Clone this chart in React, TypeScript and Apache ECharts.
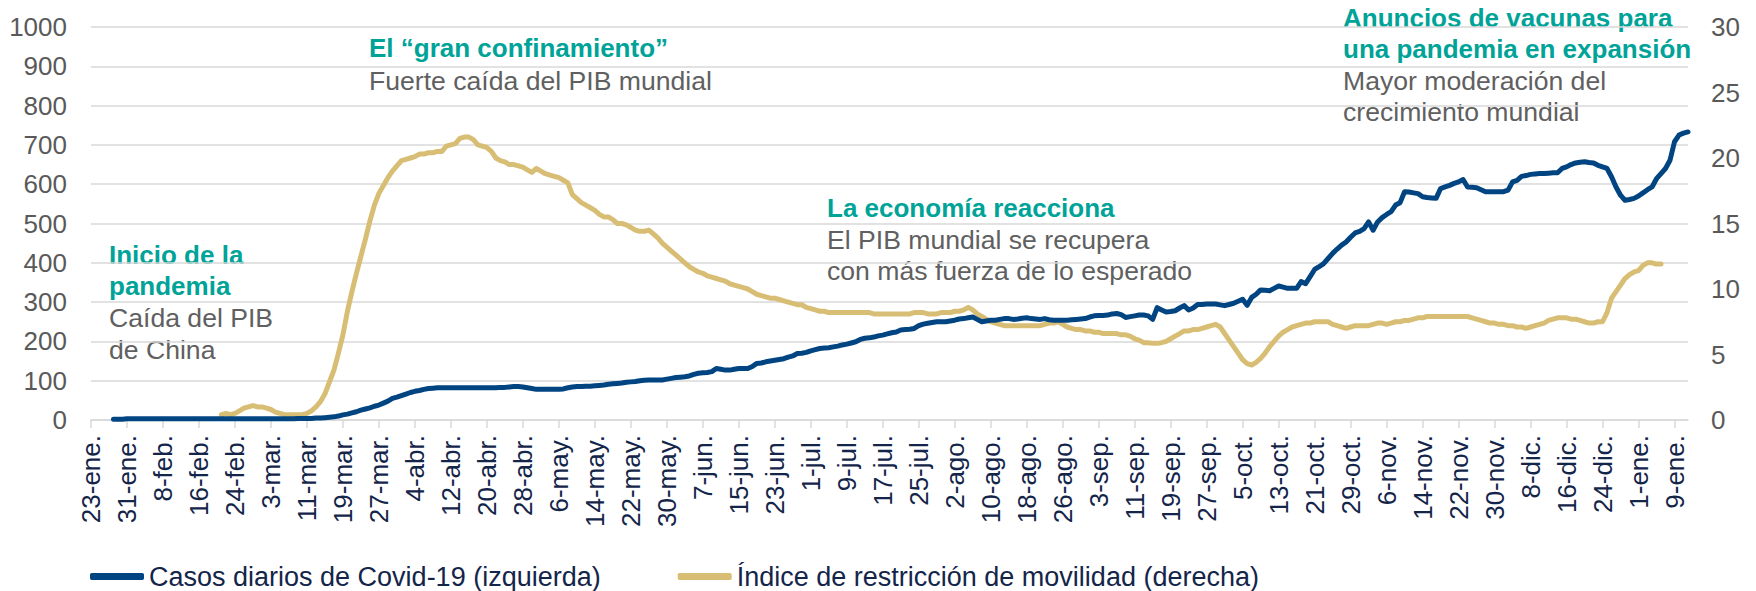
import React, { useEffect, useRef } from "react";
import * as echarts from "echarts";

// ---------- data ----------
const START_DATE = [2020, 0, 23]; // 23-ene-2020
const DAY_COUNT = 356; // 23-ene-2020 .. 12-ene-2021
const MONTHS = ["ene.", "feb.", "mar.", "abr.", "may.", "jun.", "jul.", "ago.", "sep.", "oct.", "nov.", "dic."];
const LABEL_EVERY = 8;

const SERIES_CASOS = "Casos diarios de Covid-19 (izquierda)";
const SERIES_MOVILIDAD = "Índice de restricción de movilidad (derecha)";

const LEFT_TICKS = { min: 0, max: 1000, interval: 100 };
const RIGHT_TICKS = { min: 0, max: 30, interval: 5 };

// Casos diarios (left axis), one value per day from 23-ene
const casosDiarios: (number | null)[] = [
  null, null, null, null, null,
  2, 2, 2, 3, 3,
  3, 3, 3, 3, 3, 3, 3, 3, 3, 3,
  3, 3, 3, 3, 3, 3, 3, 3, 3, 3,
  3, 3, 3, 3, 3, 3, 3, 3, 3, 3,
  3, 3, 3, 3, 3, 3, 4, 4, 4, 4,
  5, 5, 6, 7, 8, 10, 13, 15, 18, 21,
  25, 28, 31, 35, 38, 43, 48, 55, 58, 62,
  66, 70, 73, 75, 78, 80, 81, 82, 82, 82,
  82, 82, 82, 82, 82, 82, 82, 82, 82, 82,
  82, 83, 83, 84, 85, 85, 84, 82, 80, 78,
  78, 78, 78, 78, 78, 79, 82, 84, 85, 85,
  86, 86, 87, 88, 89, 91, 92, 93, 94, 96,
  97, 98, 100, 101, 102, 102, 102, 102, 104, 106,
  108, 109, 110, 112, 116, 119, 120, 121, 123, 131,
  129, 127, 127, 129, 131, 131, 131, 136, 144, 145,
  148, 150, 152, 154, 156, 160, 163, 169, 170, 172,
  176, 179, 182, 183, 184, 186, 188, 191, 193, 196,
  199, 205, 208, 209, 211, 214, 216, 219, 222, 224,
  229, 230, 231, 233, 240, 244, 246, 248, 250, 250,
  250, 252, 254, 257, 258, 260, 262, 256, 250, 252,
  254, 254, 256, 258, 258, 256, 257, 259, 260, 258,
  257, 256, 258, 255, 254, 254, 254, 254, 255, 256,
  257, 258, 262, 265, 266, 266, 267, 270, 271, 268,
  261, 263, 265, 267, 267, 265, 256, 286, 280, 275,
  276, 278, 285, 291, 280, 285, 294, 294, 295, 295,
  295, 293, 291, 294, 297, 302, 307, 292, 312, 320,
  331, 330, 329, 335, 341, 338, 335, 335, 335, 352,
  347, 365, 383, 390, 398, 411, 424, 435, 445, 453,
  465, 476, 480, 487, 504, 483, 504, 515, 523, 530,
  547, 553, 581, 580, 578, 576, 568, 566, 565, 564,
  589, 593, 597, 602, 606, 612, 593, 592, 591, 586,
  581, 581, 581, 581, 581, 585, 606, 610, 620, 622,
  625, 626, 627, 627, 628, 629, 629, 640, 644, 650,
  654, 656, 657, 655, 654, 648, 644, 640, 619, 593,
  572, 559, 561, 564, 570, 578, 586, 593, 614, 627,
  640, 661, 708, 725, 730, 733,
];

// Índice de restricción de movilidad (right axis), one value per day from 23-ene
const indiceMovilidad: (number | null)[] = [
  null, null, null, null, null, null, null, null, null, null,
  null, null, null, null, null, null, null, null, null, null,
  null, null, null, null, null, null, null, null, null,
  0.4, 0.5, 0.4, 0.5, 0.7, 0.9, 1.0, 1.1, 1.0, 1.0, 0.9,
  0.8, 0.6, 0.5, 0.4, 0.4, 0.4, 0.4, 0.4, 0.5, 0.7,
  1.0, 1.4, 2.0, 2.9, 3.8, 5.1, 6.5, 8.3, 9.8, 11.2,
  12.5, 13.8, 15.2, 16.4, 17.3, 17.9, 18.5, 19.0, 19.4, 19.8,
  19.9, 20.0, 20.1, 20.3, 20.3, 20.4, 20.4, 20.5, 20.5, 20.9,
  21.0, 21.1, 21.5, 21.6, 21.6, 21.4, 21.0, 20.9, 20.8, 20.5,
  20.0, 19.8, 19.7, 19.5, 19.5, 19.4, 19.3, 19.1, 18.9, 19.2,
  19.0, 18.8, 18.7, 18.6, 18.5, 18.3, 18.1, 17.2, 16.9, 16.6,
  16.4, 16.2, 16.0, 15.7, 15.5, 15.5, 15.3, 15.0, 15.0, 14.9,
  14.7, 14.5, 14.4, 14.4, 14.5, 14.2, 13.9, 13.5, 13.2, 12.9,
  12.6, 12.3, 12.0, 11.7, 11.5, 11.3, 11.2, 11.0, 10.9, 10.8,
  10.7, 10.6, 10.4, 10.3, 10.2, 10.1, 10.0, 9.8, 9.6, 9.5,
  9.4, 9.3, 9.3, 9.2, 9.1, 9.0, 8.9, 8.8, 8.8, 8.6,
  8.5, 8.4, 8.3, 8.3, 8.2, 8.2, 8.2, 8.2, 8.2, 8.2,
  8.2, 8.2, 8.2, 8.2, 8.1, 8.1, 8.1, 8.1, 8.1, 8.1,
  8.1, 8.1, 8.1, 8.2, 8.2, 8.2, 8.1, 8.1, 8.1, 8.2,
  8.2, 8.2, 8.3, 8.3, 8.4, 8.6, 8.4, 8.1, 7.9, 7.7,
  7.5, 7.4, 7.3, 7.2, 7.2, 7.2, 7.2, 7.2, 7.2, 7.2,
  7.2, 7.2, 7.3, 7.4, 7.4, 7.5, 7.3, 7.1, 7.0, 6.9,
  6.9, 6.8, 6.8, 6.7, 6.7, 6.6, 6.6, 6.6, 6.6, 6.5,
  6.5, 6.4, 6.2, 6.1, 5.9, 5.9, 5.85, 5.85, 5.9, 6.0,
  6.2, 6.4, 6.6, 6.8, 6.8, 6.9, 6.9, 7.0, 7.1, 7.2,
  7.3, 7.1, 6.6, 6.1, 5.6, 5.1, 4.6, 4.3, 4.2, 4.4,
  4.7, 5.1, 5.6, 6.0, 6.4, 6.7, 6.9, 7.1, 7.2, 7.3,
  7.4, 7.4, 7.5, 7.5, 7.5, 7.5, 7.3, 7.2, 7.1, 7.0,
  7.1, 7.2, 7.2, 7.2, 7.2, 7.3, 7.4, 7.4, 7.3, 7.4,
  7.5, 7.5, 7.6, 7.6, 7.7, 7.8, 7.8, 7.9, 7.9, 7.9,
  7.9, 7.9, 7.9, 7.9, 7.9, 7.9, 7.9, 7.8, 7.7, 7.6,
  7.5, 7.4, 7.4, 7.3, 7.3, 7.2, 7.2, 7.1, 7.1, 7.0,
  7.1, 7.2, 7.3, 7.4, 7.6, 7.7, 7.8, 7.8, 7.8, 7.7,
  7.7, 7.6, 7.5, 7.4, 7.4, 7.5, 7.5, 8.2, 9.3, 9.8,
  10.3, 10.8, 11.1, 11.3, 11.4, 11.8, 12.0, 12.0, 11.9, 11.9,
  null, null, null, null, null, null,
];

// annotation texts
const NOTE_INICIO_TITLE = ["Inicio de la", "pandemia"];
const NOTE_INICIO_BODY = ["Caída del PIB", "de China"];
const NOTE_CONF_TITLE = ["El “gran confinamiento”"];
const NOTE_CONF_BODY = ["Fuerte caída del PIB mundial"];
const NOTE_REAC_TITLE = ["La economía reacciona"];
const NOTE_REAC_BODY = ["El PIB mundial se recupera", "con más fuerza de lo esperado"];
const NOTE_VAC_TITLE = ["Anuncios de vacunas para", "una pandemia en expansión"];
const NOTE_VAC_BODY = ["Mayor moderación del", "crecimiento mundial"];

// ---------- styling ----------
const FONT = "'Liberation Sans', Arial, sans-serif";
const C_BLUE = "#004481";
const C_SAND = "#D8BE75";
const C_TEAL = "#00A398";
const C_NOTE = "#606060";
const C_AXIS = "#595959";
const C_NAVY = "#14254A";
const C_GRID = "#D9D9D9";

function buildCategories(): string[] {
  const out: string[] = [];
  for (let i = 0; i < DAY_COUNT; i++) {
    const d = new Date(Date.UTC(START_DATE[0], START_DATE[1], START_DATE[2] + i));
    out.push(`${d.getUTCDate()}-${MONTHS[d.getUTCMonth()]}`);
  }
  return out;
}

function noteLines(lines: string[], x: number, y0: number, step: number, bold: boolean, color: string) {
  return lines.map((t, i) => ({
    type: "text",
    x,
    y: y0 + i * step,
    silent: true,
    style: {
      text: t,
      fill: color,
      font: `${bold ? "bold 26px" : "26.6px"} ${FONT}`,
      textAlign: "left",
      textVerticalAlign: "middle",
    },
  }));
}

export default function App() {
  const ref = useRef<HTMLDivElement>(null);

  useEffect(() => {
    if (!ref.current) return;
    const chart = echarts.init(ref.current, null, { renderer: "svg" });
    const categories = buildCategories();
    const every = (i: number) => i % LABEL_EVERY === 0;
    const plain = (v: number) => String(v);

    const option: any = {
      animation: false,
      backgroundColor: "#ffffff",
      grid: { left: 91, right: 68, top: 27, bottom: 171, containLabel: false, outerBoundsMode: "none" },
      legend: {
        left: 90,
        top: 563,
        padding: 0,
        itemWidth: 54,
        itemHeight: 7,
        itemGap: 77,
        icon: "roundRect",
        textStyle: { fontSize: 27, color: C_NAVY, fontFamily: FONT },
        data: [SERIES_CASOS, SERIES_MOVILIDAD],
      },
      xAxis: {
        type: "category",
        data: categories,
        boundaryGap: false,
        axisLine: { lineStyle: { color: C_GRID, width: 1.5 } },
        axisTick: { show: true, interval: every, length: 8, lineStyle: { color: C_GRID, width: 1.5 } },
        axisLabel: {
          interval: every,
          rotate: 90,
          margin: 15,
          fontSize: 26,
          fontFamily: FONT,
          color: C_NAVY,
        },
        splitLine: { show: false },
      },
      yAxis: [
        {
          type: "value",
          position: "left",
          ...LEFT_TICKS,
          axisLine: { show: false },
          axisTick: { show: false },
          axisLabel: { fontSize: 26, fontFamily: FONT, color: C_AXIS, margin: 24, formatter: plain },
          splitLine: { lineStyle: { color: C_GRID, width: 1.5 } },
        },
        {
          type: "value",
          position: "right",
          ...RIGHT_TICKS,
          axisLine: { show: false },
          axisTick: { show: false },
          axisLabel: { fontSize: 26, fontFamily: FONT, color: C_AXIS, margin: 23, formatter: plain },
          splitLine: { show: false },
        },
      ],
      series: [
        {
          name: SERIES_CASOS,
          type: "line",
          yAxisIndex: 0,
          data: casosDiarios,
          symbol: "none",
          showSymbol: false,
          z: 3,
          itemStyle: { color: C_BLUE },
          lineStyle: { color: C_BLUE, width: 5, cap: "round", join: "round" },
        },
        {
          name: SERIES_MOVILIDAD,
          type: "line",
          yAxisIndex: 1,
          data: indiceMovilidad,
          symbol: "none",
          showSymbol: false,
          z: 2,
          itemStyle: { color: C_SAND },
          lineStyle: { color: C_SAND, width: 5, cap: "round", join: "round" },
        },
      ],
      graphic: [
        ...noteLines(NOTE_INICIO_TITLE, 109, 255, 31, true, C_TEAL),
        ...noteLines(NOTE_INICIO_BODY, 109, 318, 32, false, C_NOTE),
        ...noteLines(NOTE_CONF_TITLE, 369, 48, 32, true, C_TEAL),
        ...noteLines(NOTE_CONF_BODY, 369, 81, 32, false, C_NOTE),
        ...noteLines(NOTE_REAC_TITLE, 827, 208, 32, true, C_TEAL),
        ...noteLines(NOTE_REAC_BODY, 827, 240, 31, false, C_NOTE),
        ...noteLines(NOTE_VAC_TITLE, 1343, 18, 30.5, true, C_TEAL),
        ...noteLines(NOTE_VAC_BODY, 1343, 81, 31, false, C_NOTE),
      ],
    };

    chart.setOption(option);
    return () => chart.dispose();
  }, []);

  return (
    <div
      ref={ref}
      style={{ position: "fixed", left: 0, top: 0, width: 1756, height: 591, background: "#ffffff" }}
    />
  );
}
